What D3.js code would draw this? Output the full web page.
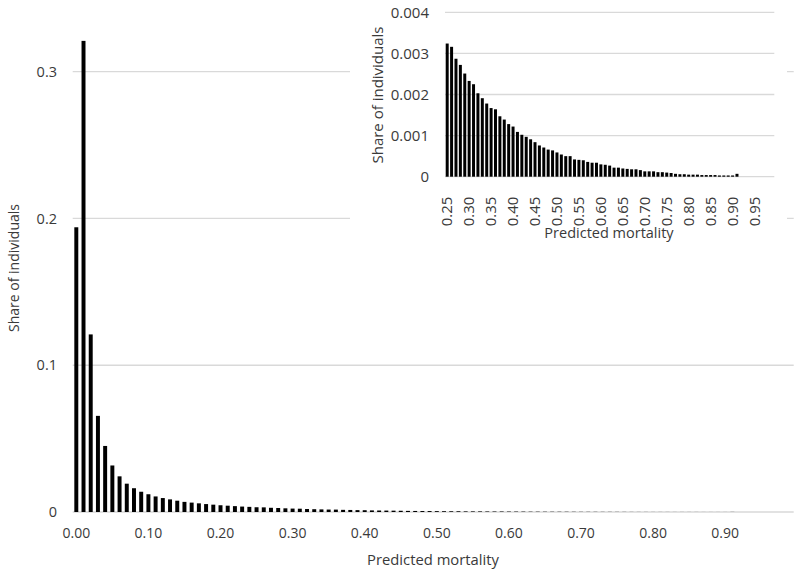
<!DOCTYPE html>
<html><head><meta charset="utf-8">
<script src="https://cdn.jsdelivr.net/npm/d3@7"></script>
<style>
body{margin:0;background:#fff}
svg{display:block}
text{font-family:"Open Sans",sans-serif;fill:#3a3a3a}
</style>
</head><body>
<svg id="chart" width="800" height="572"></svg>
<script>
// Categories: predicted mortality bins 0.00 .. 0.99
const categories = d3.range(100).map(i => (i / 100).toFixed(2));
// Share of individuals for bins 0.00 .. 0.91
const shareOfIndividuals = [
  0.194, 0.321, 0.121, 0.0655, 0.045, 0.0317, 0.0243, 0.0193, 0.0162, 0.0138,
  0.0121, 0.0106, 0.0095, 0.0086, 0.0077, 0.0069, 0.0064, 0.0059, 0.0054, 0.0050,
  0.0046, 0.0043, 0.0040, 0.0037, 0.0035,
  0.00324, 0.00316, 0.00287, 0.00272, 0.00251, 0.00233, 0.00225, 0.00203, 0.00191, 0.00178,
  0.00167, 0.00164, 0.00147, 0.00139, 0.00128, 0.00122, 0.00109, 0.00102, 0.00097, 0.00091,
  0.00084, 0.00076, 0.00071, 0.00066, 0.00064, 0.00059, 0.00054, 0.00050, 0.00050, 0.00042,
  0.00041, 0.00040, 0.00036, 0.00034, 0.00034, 0.00030, 0.00029, 0.00027, 0.00022, 0.00022,
  0.00020, 0.00019, 0.00018, 0.00018, 0.00016, 0.00013, 0.00013, 0.00013, 0.00011, 0.00011,
  0.00010, 0.00009, 0.00007, 0.00006, 0.00006, 0.00005, 0.00005, 0.00005, 0.00004, 0.00004,
  0.00004, 0.00004, 0.00003, 0.00003, 0.00003, 0.00003, 0.00007
];
const mainXTickLabels = ["0.00","0.10","0.20","0.30","0.40","0.50","0.60","0.70","0.80","0.90"];
const mainYTicks = [0, 0.1, 0.2, 0.3];
const insetStart = "0.25";
const insetXTickLabels = ["0.25","0.30","0.35","0.40","0.45","0.50","0.55","0.60","0.65","0.70","0.75","0.80","0.85","0.90","0.95"];
const insetYTicks = [0, 0.001, 0.002, 0.003, 0.004];
const xTitle = "Predicted mortality";
const yTitle = "Share of individuals";

const data = shareOfIndividuals.map((v, i) => ({cat: categories[i], value: v}));
const svg = d3.select("#chart");
const grid = "#d9d9d9";
const fmt = d => d === 0 ? "0" : String(d);

// ---------- main chart ----------
const x = d3.scaleBand().domain(categories).range([72.7, 793.7]).paddingInner(0.45).paddingOuter(0.225);
const y = d3.scaleLinear().domain([0, 0.3]).range([512, 71.7]);
const main = svg.append("g");

main.append("g").selectAll("line").data(mainYTicks).join("line")
  .attr("x1", 72.7).attr("x2", 793.7)
  .attr("y1", d => y(d)).attr("y2", d => y(d))
  .attr("stroke", grid).attr("stroke-width", 1.3);

main.append("g").selectAll("rect").data(data).join("rect")
  .attr("x", d => x(d.cat)).attr("width", x.bandwidth())
  .attr("y", d => y(d.value)).attr("height", d => y(0) - y(d.value))
  .attr("fill", "#000");

const yAxis = main.append("g").attr("transform", "translate(57,0)")
  .call(d3.axisLeft(y).tickValues(mainYTicks).tickSize(0).tickPadding(0).tickFormat(fmt));
yAxis.select(".domain").remove();
yAxis.selectAll("text").style("font-size", "14.5px").style("font-family", "Open Sans").attr("fill", "#3a3a3a");

const xAxis = main.append("g").attr("transform", `translate(0,${y(0)})`)
  .call(d3.axisBottom(x).tickValues(mainXTickLabels).tickSize(0).tickPadding(16));
xAxis.select(".domain").remove();
xAxis.selectAll("text").style("font-size", "14px").style("font-family", "Open Sans").attr("fill", "#3a3a3a");

svg.append("text").attr("x", 433).attr("y", 565).attr("text-anchor", "middle")
  .style("font-size", "14.8px").text(xTitle);
svg.append("text").attr("transform", "translate(18.5,268) rotate(-90)").attr("text-anchor", "middle")
  .style("font-size", "14px").text(yTitle);

// ---------- inset ----------
const insetCats = categories.slice(categories.indexOf(insetStart));
const insetData = data.filter(d => +d.cat >= +insetStart);
const inset = svg.append("g");
inset.append("rect").attr("x", 350).attr("y", 0).attr("width", 437).attr("height", 252).attr("fill", "#fff");

const xi = d3.scaleBand().domain(insetCats).range([445, 774.3]).paddingInner(0.32).paddingOuter(0.16);
const yi = d3.scaleLinear().domain([0, 0.004]).range([176.7, 12.3]);

inset.append("g").selectAll("line").data(insetYTicks).join("line")
  .attr("x1", 445).attr("x2", 774.3)
  .attr("y1", d => yi(d)).attr("y2", d => yi(d))
  .attr("stroke", grid).attr("stroke-width", 1.3);

inset.append("g").selectAll("rect").data(insetData).join("rect")
  .attr("x", d => xi(d.cat)).attr("width", xi.bandwidth())
  .attr("y", d => yi(d.value)).attr("height", d => yi(0) - yi(d.value))
  .attr("fill", "#000");

const yiAxis = inset.append("g").attr("transform", "translate(429,0)")
  .call(d3.axisLeft(yi).tickValues(insetYTicks).tickSize(0).tickPadding(0).tickFormat(fmt));
yiAxis.select(".domain").remove();
yiAxis.selectAll("text").style("font-size", "15px").style("font-family", "Open Sans").attr("fill", "#3a3a3a");

const xiAxis = inset.append("g").attr("transform", `translate(0,${yi(0)})`)
  .call(d3.axisBottom(xi).tickValues(insetXTickLabels).tickSize(0));
xiAxis.select(".domain").remove();
xiAxis.selectAll("text")
  .attr("transform", "rotate(-90)").attr("text-anchor", "end")
  .attr("x", -20).attr("y", 0).attr("dy", "0.35em")
  .style("font-size", "15px").style("font-family", "Open Sans").attr("fill", "#3a3a3a");

inset.append("text").attr("x", 609).attr("y", 238).attr("text-anchor", "middle")
  .style("font-size", "14.5px").text(xTitle);
inset.append("text").attr("transform", "translate(383,95) rotate(-90)").attr("text-anchor", "middle")
  .style("font-size", "15px").text(yTitle);
</script>
</body></html>
